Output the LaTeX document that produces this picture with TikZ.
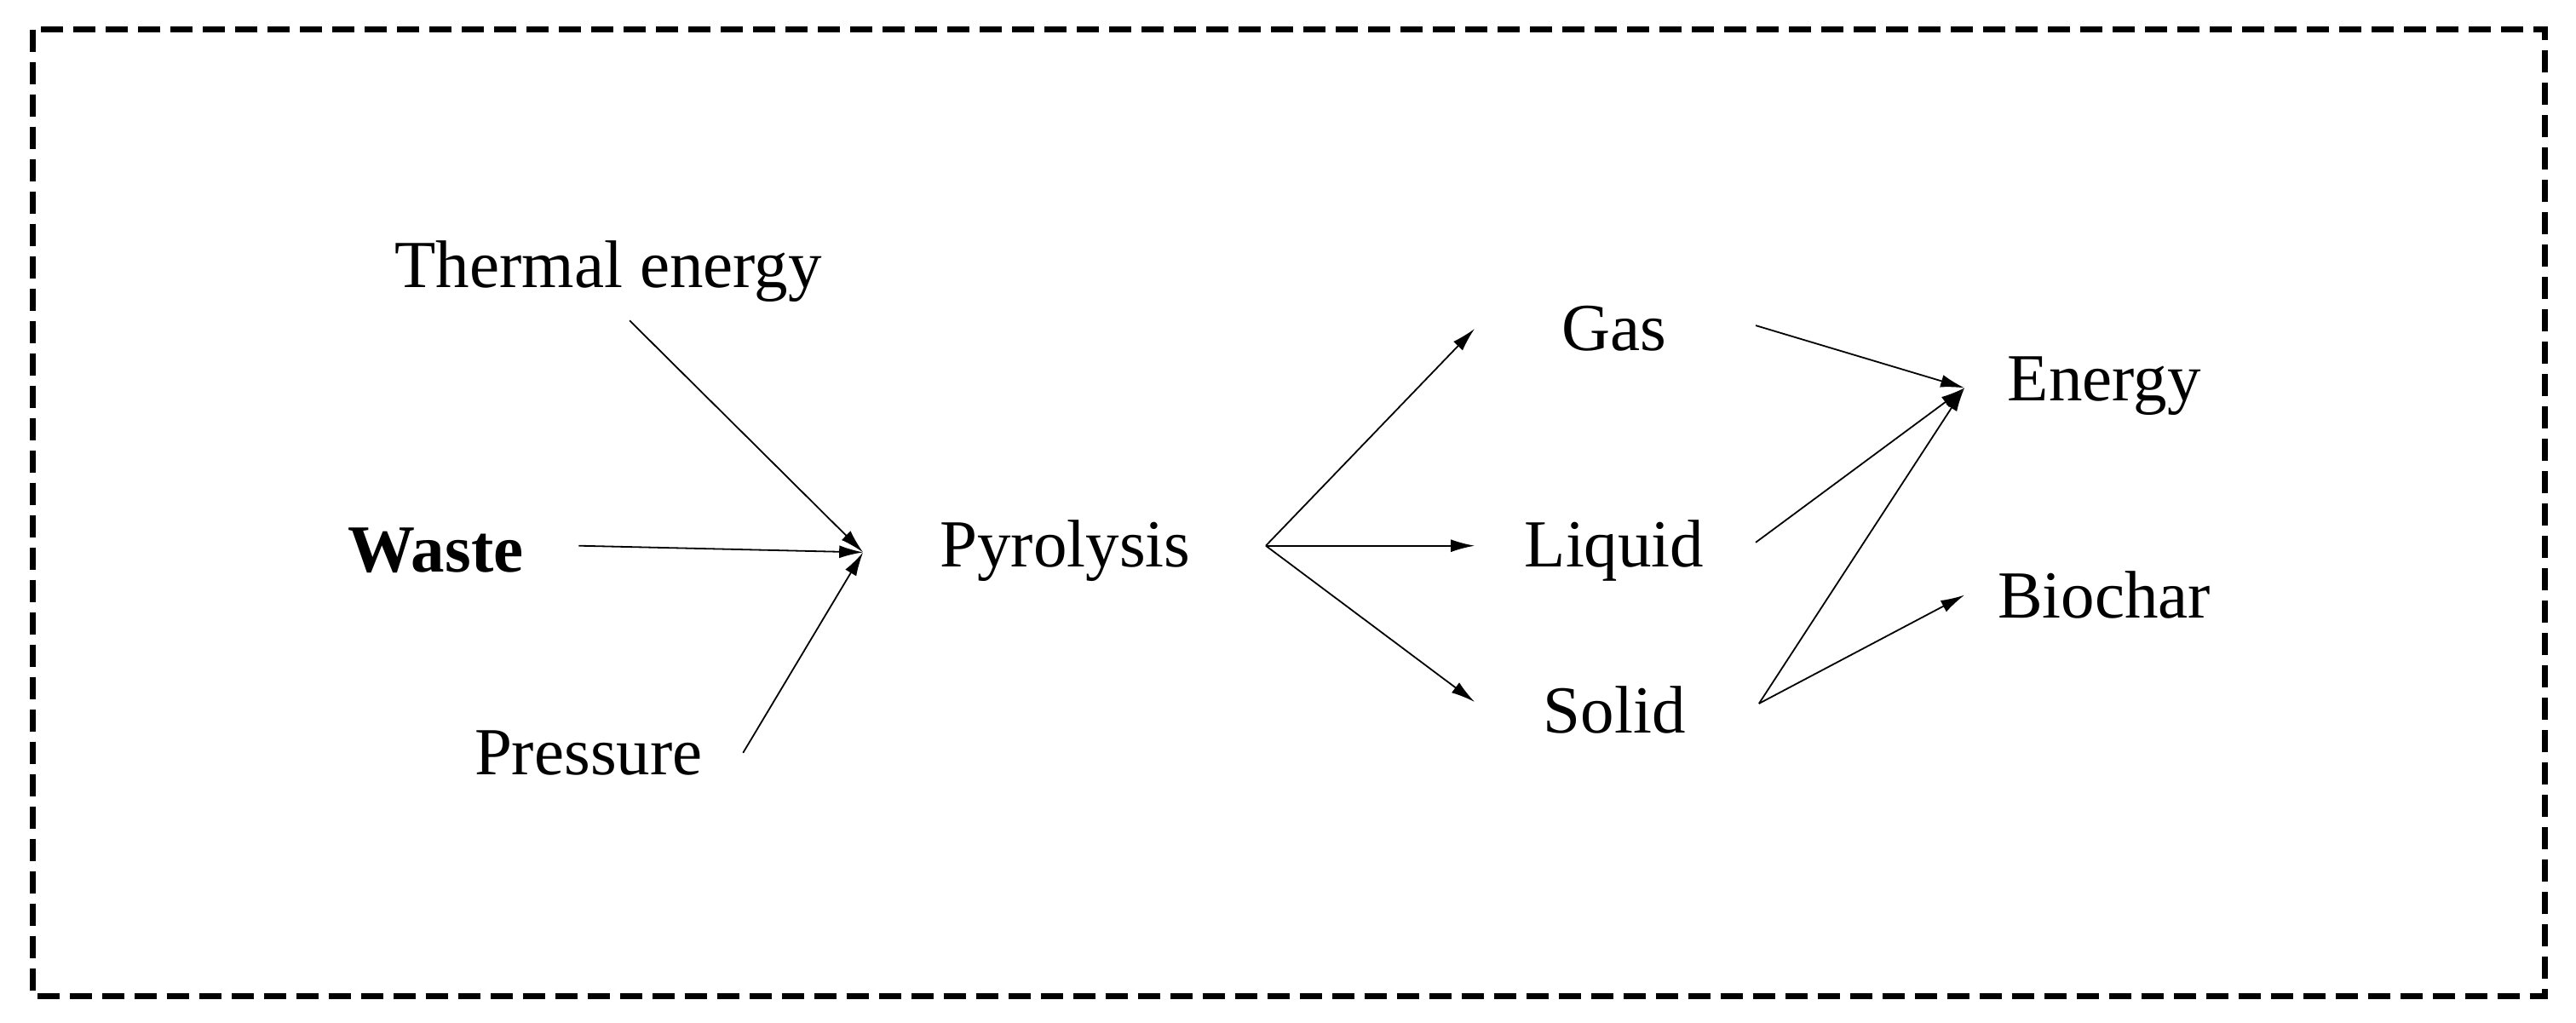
\documentclass[tikz,border=0pt]{standalone}
\usepackage{fontspec}
\setmainfont{Liberation Serif}
\usetikzlibrary{arrows.meta}
\begin{document}
\begin{tikzpicture}[x=1.93pt,y=-1.93pt,
  lbl/.style={inner sep=0pt,font=\fontsize{79}{90}\selectfont},
  arr/.style={-{Latex[length=28pt,width=15pt]},line width=1.8pt}]
\useasboundingbox (0,0) rectangle (1567,622);
\draw[line width=7pt,dash pattern=on 26pt off 12pt] (20,18) rectangle (1548,606);
\node[lbl] (th) at (370,165) {Thermal energy};
\node[lbl,font=\fontsize{79}{90}\selectfont\bfseries] (wa) at (265,335) {Waste};
\node[lbl] (pr) at (358,458) {Pressure};
\node[lbl] (py) at (648,335) {Pyrolysis};
\node[lbl] (ga) at (982,200) {Gas};
\node[lbl] (li) at (982,335) {Liquid};
\node[lbl] (so) at (982,432) {Solid};
\node[lbl] (en) at (1280,235) {Energy};
\node[lbl] (bi) at (1280,362) {Biochar};
\coordinate (t0) at (383,195);
\coordinate (w0) at (352,332);
\coordinate (p0) at (452,458);
\coordinate (hub) at (525,336);
\coordinate (py0) at (770,332);
\coordinate (g1) at (897,200);
\coordinate (l1) at (897,332);
\coordinate (s1) at (897,427);
\coordinate (g0) at (1068,198);
\coordinate (l0) at (1068,330);
\coordinate (s0) at (1070,428);
\coordinate (e1) at (1195,236);
\coordinate (b1) at (1195,362);
\draw[arr] (t0) -- (hub);
\draw[arr] (w0) -- (hub);
\draw[arr] (p0) -- (hub);
\draw[arr] (py0) -- (g1);
\draw[arr] (py0) -- (l1);
\draw[arr] (py0) -- (s1);
\draw[arr] (g0) -- (e1);
\draw[arr] (l0) -- (e1);
\draw[arr] (s0) -- (e1);
\draw[arr] (s0) -- (b1);
\end{tikzpicture}
\end{document}
